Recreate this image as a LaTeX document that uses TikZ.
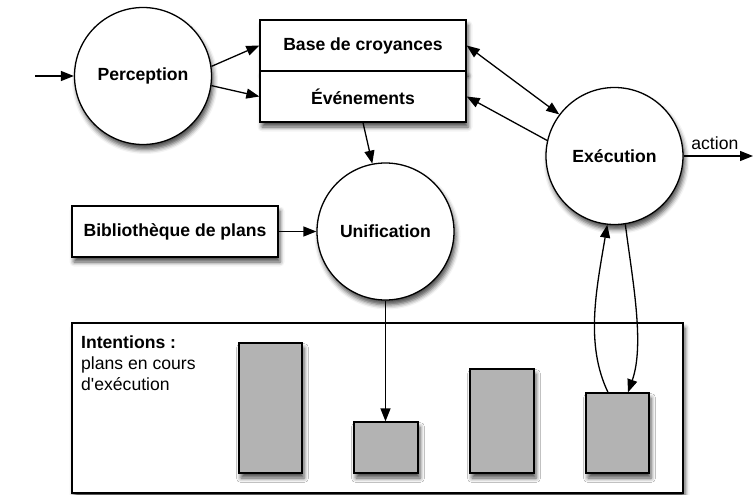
\documentclass[tikz,border=0pt]{standalone}
\usepackage{fontspec}
\setmainfont{Liberation Sans}[Ligatures=TeXOff]
\usetikzlibrary{arrows.meta,shadows.blur,calc}
\definecolor{plangray}{RGB}{179,179,179}
\begin{document}
\begin{tikzpicture}[x=1pt,y=-1pt,
  every node/.style={font=\fontsize{17.6}{21}\selectfont},
  lw/.style={line width=1.3pt},
  sh/.style={blur shadow={shadow xshift=2pt,shadow yshift=-5pt,shadow blur radius=4.5pt,shadow opacity=70}},
  circ/.style={circle,draw,lw,fill=white,minimum size=137pt,inner sep=0pt,font=\fontsize{17.6}{21}\selectfont\bfseries,sh},
  box/.style={rectangle,draw,lw,fill=white,minimum width=206pt,minimum height=51pt,inner sep=0pt,font=\fontsize{17.6}{21}\selectfont\bfseries,sh},
  plan/.style={rectangle,draw,lw,fill=plangray,inner sep=0pt,sh},
  arr/.style={lw,-{Triangle[length=13pt,width=10pt]}},
  dblarr/.style={lw,{Triangle[length=13pt,width=10pt]}-{Triangle[length=13pt,width=10pt]}},
]
\useasboundingbox (0,0) rectangle (753,495);

% nodes
\node[circ] (perc) at (143,76) {Perception};
\node[box] (base) at (363,45.5) {Base de croyances};
\node[box] (evt) at (363,96.5) {Événements};
\node[box] (bib) at (175,231.5) {Bibliothèque de plans};
\node[circ] (unif) at (385.5,231.5) {Unification};
\node[circ] (exe) at (614.5,156) {Exécution};

\node[rectangle,draw,lw,fill=white,sh,minimum width=611pt,minimum height=170pt,inner sep=0pt] (int) at (377.5,408) {};
\node[anchor=north west,align=left,inner sep=0pt] (inttxt) at (81,336) {\textbf{Intentions :}\\plans en cours\\d'exécution};

\node[plan,minimum width=63pt,minimum height=130pt] (r1) at (270.5,408) {};
\node[plan,minimum width=64pt,minimum height=51pt] (r2) at (386,447.5) {};
\node[plan,minimum width=64pt,minimum height=104pt] (r3) at (502,421) {};
\node[plan,minimum width=63pt,minimum height=80pt] (r4) at (617.5,433) {};

% connectors
\coordinate (in) at (35,76);
\coordinate (act) at (753,156);
\draw[arr] (in) -- (perc);
\draw[arr] (perc.8) -- (base.west);
\draw[arr] (perc.-8) -- (evt.west);
\draw[dblarr] (base.east) -- (exe.143);
\draw[arr] (exe.167) -- (evt.east);
\draw[arr] (evt.south) -- (unif.101);
\draw[arr] (bib) -- (unif);
\draw[arr] (unif.south) -- (unif.south |- r2.north);
\draw[arr] (exe.east) -- (act) node[pos=0.45,above=6pt,inner sep=0pt] (actlbl) {action};
\draw[arr] ([xshift=-9.5pt]r4.north) .. controls +(-23,-48) and +(-11,65) .. (exe.-96);
\draw[arr] (exe.-81) .. controls +(7,55) and +(17,-48) .. ([xshift=10.5pt]r4.north);
\end{tikzpicture}
\end{document}
